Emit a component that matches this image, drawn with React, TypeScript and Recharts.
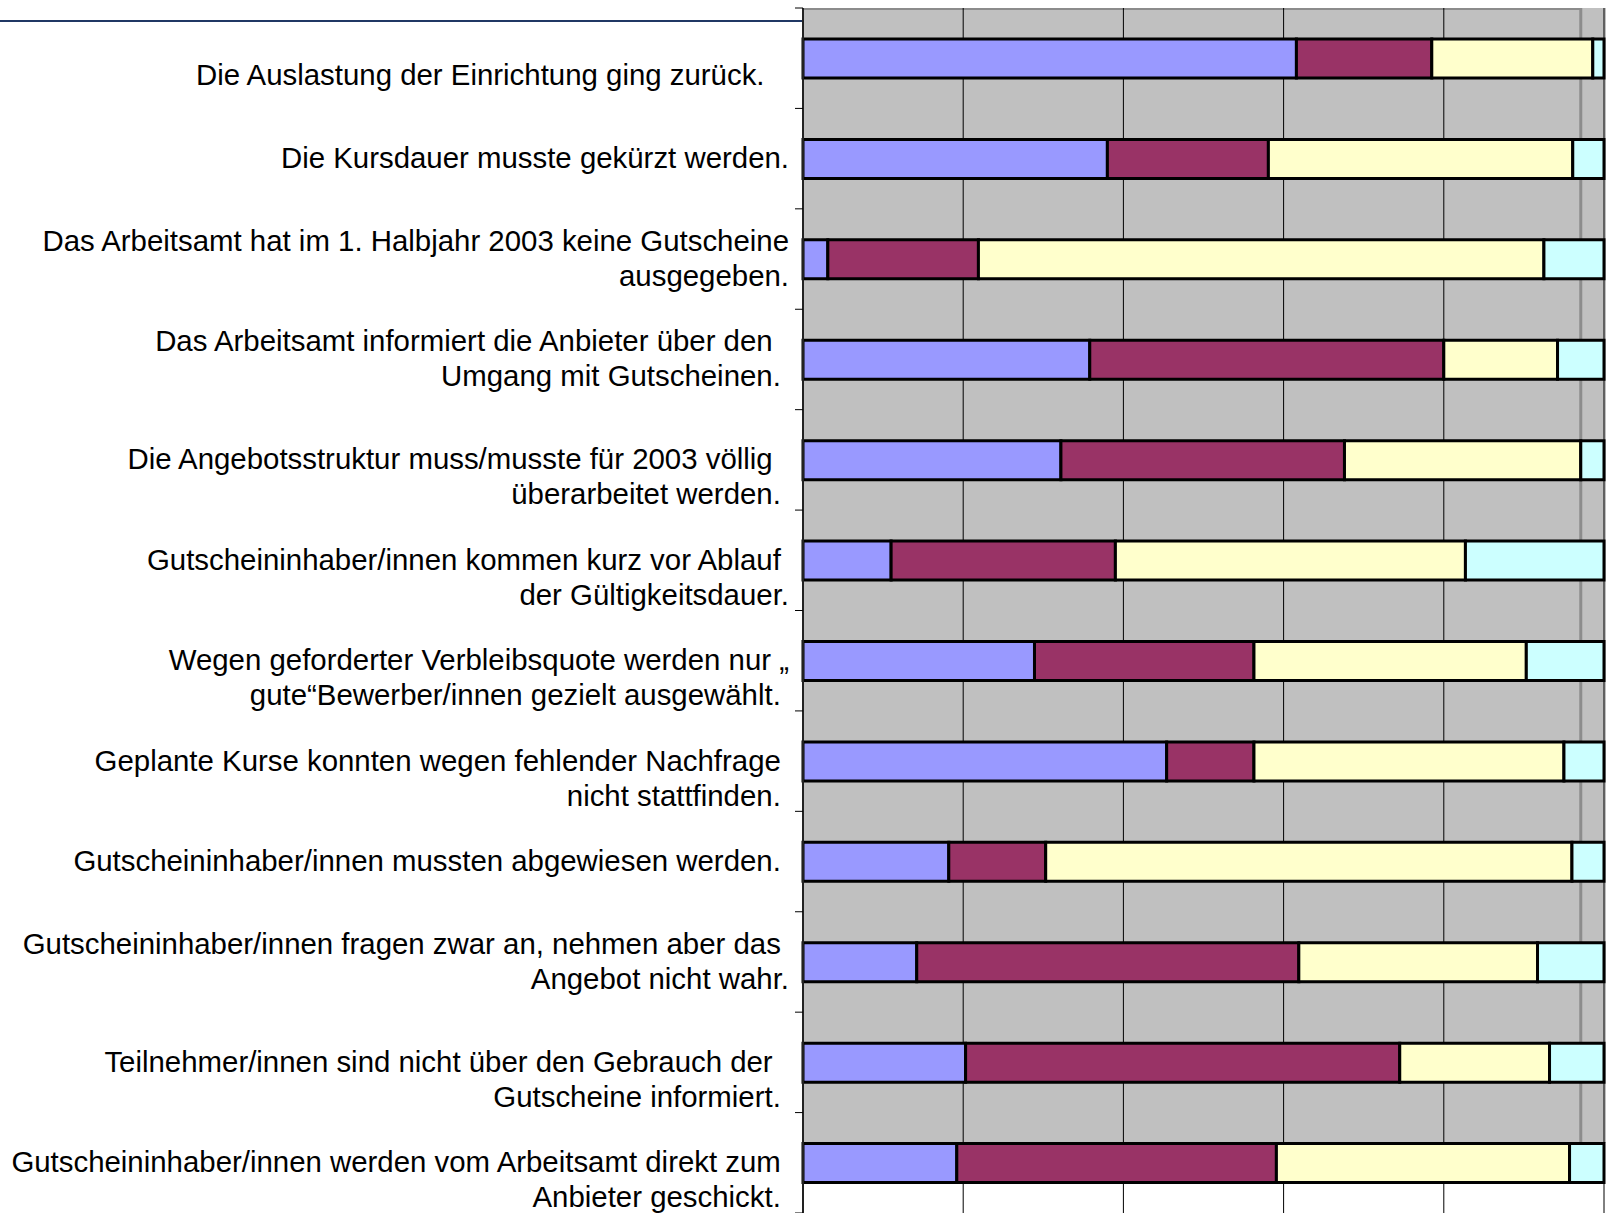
import React from 'react';
import { BarChart, Bar, XAxis, YAxis, CartesianGrid, ReferenceArea } from 'recharts';

// Category labels ("\n" = line break, leading "\n" = empty first line as in the source chart)
const categories: string[] = [
  "\nDie Auslastung der Einrichtung ging zurück.   ",
  "Die Kursdauer musste gekürzt werden.",
  "Das Arbeitsamt hat im 1. Halbjahr 2003 keine Gutscheine\nausgegeben.",
  "Das Arbeitsamt informiert die Anbieter über den  \nUmgang mit Gutscheinen. ",
  "\nDie Angebotsstruktur muss/musste für 2003 völlig  \nüberarbeitet werden. ",
  "\nGutscheininhaber/innen kommen kurz vor Ablauf \nder Gültigkeitsdauer.",
  "\nWegen geforderter Verbleibsquote werden nur „\ngute“Bewerber/innen gezielt ausgewählt. ",
  "\nGeplante Kurse konnten wegen fehlender Nachfrage \nnicht stattfinden. ",
  "Gutscheininhaber/innen mussten abgewiesen werden. ",
  "Gutscheininhaber/innen fragen zwar an, nehmen aber das \nAngebot nicht wahr.",
  "\nTeilnehmer/innen sind nicht über den Gebrauch der  \nGutscheine informiert. ",
  "\nGutscheininhaber/innen werden vom Arbeitsamt direkt zum \nAnbieter geschickt. ",
];

// Shares in percent
const series1: number[] = [61.6, 38.0, 3.1, 35.8, 32.2, 11.0, 28.9, 45.4, 18.2, 14.2, 20.3, 19.2];
const series2: number[] = [16.9, 20.1, 18.8, 44.2, 35.4, 28.0, 27.4, 10.9, 12.1, 47.7, 54.2, 39.9];
const series3: number[] = [20.1, 38.0, 70.6, 14.2, 29.5, 43.7, 34.0, 38.7, 65.7, 29.8, 18.7, 36.6];
const series4: number[] = [1.4, 3.9, 7.5, 5.8, 2.9, 17.3, 9.7, 5.0, 4.0, 8.3, 6.8, 4.3];

const xTicks: number[] = [0, 20, 40, 60, 80, 100];

const data = categories.map((cat, i) => ({
  cat,
  s1: series1[i],
  s2: series2[i],
  s3: series3[i],
  s4: series4[i],
}));

const CHART_W = 1606;
const CHART_H = 1213;
const MARGIN = { top: 8, right: 2, bottom: 0, left: 0 };
const AXIS_W = 803;
const BAND = (CHART_H - MARGIN.top - MARGIN.bottom) / categories.length;
const FONT = 29.4;
const LINE_H = 35.2;
const TICK_GAP = 14;
const FONT_FAMILY = '"Liberation Sans", Arial, Helvetica, sans-serif';

function CategoryTick(props: any) {
  const { x, y, payload, index } = props;
  const lines = String(payload.value).split('\n');
  const n = lines.length;
  const axisX = x + TICK_GAP;
  return (
    <g>
      <text
        x={x}
        y={y}
        textAnchor="end"
        fontFamily={FONT_FAMILY}
        fontSize={FONT}
        fill="#000"
        xmlSpace="preserve"
        style={{ whiteSpace: 'pre' }}
      >
        {lines.map((ln, i) => (
          <tspan key={i} x={x} y={y + (i - (n - 1) / 2) * LINE_H} dy="0.32em">
            {ln}
          </tspan>
        ))}
      </text>
      <line x1={axisX - 8} x2={axisX} y1={y + BAND / 2} y2={y + BAND / 2} stroke="#000" strokeWidth={1} />
      {index === 0 && (
        <line x1={axisX - 8} x2={axisX} y1={y - BAND / 2} y2={y - BAND / 2} stroke="#000" strokeWidth={1} />
      )}
    </g>
  );
}

const GRAY_TRIM = 0.7; // part of the last band left white in the source
function PlotBackground(props: any) {
  const { x, y, width, height } = props;
  const grayH = height - GRAY_TRIM * (height / categories.length);
  const borderX = x + width * 0.971;
  return (
    <g>
      <rect x={x} y={y} width={width + 2} height={grayH} fill="#C0C0C0" />
      <line x1={x} x2={borderX} y1={y + 1} y2={y + 1} stroke="#8C8C8C" strokeWidth={2} />
      <line x1={borderX} x2={borderX} y1={y} y2={y + grayH} stroke="#8C8C8C" strokeWidth={3} />
    </g>
  );
}

export default function App() {
  return (
    <div style={{ position: 'absolute', left: 0, top: 0, width: CHART_W, height: CHART_H, background: '#fff' }}>
      <div
        style={{
          position: 'absolute',
          left: 0,
          top: 19.5,
          width: AXIS_W,
          height: 2,
          background: '#203864',
        }}
      />
      <div style={{ position: 'absolute', left: 0, top: 0 }}>
        <BarChart
          width={CHART_W}
          height={CHART_H}
          data={data}
          layout="vertical"
          margin={MARGIN}
          barSize={39}
        >
          <ReferenceArea
            x1={0}
            x2={100}
            y1={categories[0]}
            y2={categories[categories.length - 1]}
            shape={PlotBackground}
            ifOverflow="visible"
            zIndex={-200}
          />
          <CartesianGrid horizontal={false} vertical={true} stroke="#000" strokeWidth={1} />
          <XAxis type="number" domain={[0, 100]} ticks={xTicks} hide />
          <YAxis
            type="category"
            dataKey="cat"
            width={AXIS_W}
            tickSize={0}
            tickMargin={TICK_GAP}
            tickLine={false}
            axisLine={{ stroke: '#222', strokeWidth: 2 }}
            tick={CategoryTick}
            interval={0}
          />
          <Bar dataKey="s1" stackId="a" fill="#9999FF" stroke="#000" strokeWidth={3} isAnimationActive={false} />
          <Bar dataKey="s2" stackId="a" fill="#993366" stroke="#000" strokeWidth={3} isAnimationActive={false} />
          <Bar dataKey="s3" stackId="a" fill="#FFFFCC" stroke="#000" strokeWidth={3} isAnimationActive={false} />
          <Bar dataKey="s4" stackId="a" fill="#CCFFFF" stroke="#000" strokeWidth={3} isAnimationActive={false} />
        </BarChart>
      </div>
    </div>
  );
}
